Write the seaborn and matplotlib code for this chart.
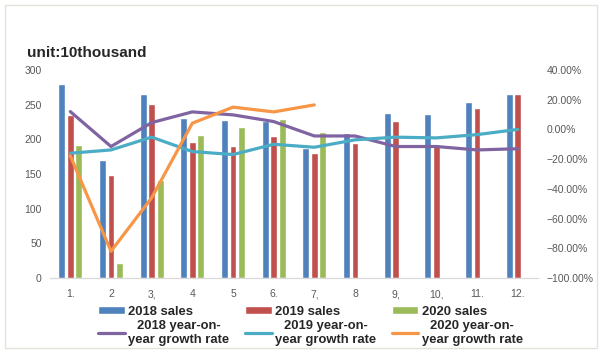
import matplotlib
matplotlib.use("Agg")
import matplotlib.pyplot as plt
import seaborn as sns
import pandas as pd
import numpy as np
from matplotlib.patches import Patch, Rectangle
from matplotlib.lines import Line2D
from matplotlib.ticker import PercentFormatter

# data (unit: 10 thousand)
months = ["1.", "2", "3,", "4", "5", "6.", "7,", "8", "9,", "10,", "11.", "12."]
sales_2018 = [280, 170, 265, 231, 228, 227, 187, 209, 238, 237, 254, 265]
sales_2019 = [235, 148, 251, 196, 191, 205, 180, 195, 227, 192, 245, 265]
sales_2020 = [192, 21, 142, 206, 218, 229, 210, np.nan, np.nan, np.nan, np.nan, np.nan]
growth_2018 = [12.0, -11.5, 4.6, 11.8, 9.8, 5.3, -4.4, -4.4, -11.5, -11.5, -13.8, -13.0]
growth_2019 = [-16.0, -13.8, -5.2, -14.9, -16.9, -10.0, -12.0, -7.0, -5.2, -5.7, -3.5, 0.0]
growth_2020 = [-17.8, -82.0, -46.0, 4.2, 15.0, 11.8, 16.5, np.nan, np.nan, np.nan, np.nan, np.nan]

bar_labels = ["2018 sales", "2019 sales", "2020 sales"]
line_labels = ["2018 year-on-\nyear growth rate", "2019 year-on-\nyear growth rate",
               "2020 year-on-\nyear growth rate"]
bar_colors = ["#4F81BD", "#C0504D", "#9BBB59"]
line_colors = ["#8064A2", "#4BACC6", "#F79646"]

sales = pd.DataFrame({
    "month": months * 3,
    "series": [bar_labels[0]] * 12 + [bar_labels[1]] * 12 + [bar_labels[2]] * 12,
    "value": sales_2018 + sales_2019 + sales_2020,
})
growth = pd.DataFrame({
    "pos": list(range(12)) * 3,
    "series": [line_labels[0]] * 12 + [line_labels[1]] * 12 + [line_labels[2]] * 12,
    "rate": growth_2018 + growth_2019 + growth_2020,
})

sns.set_style("white")
plt.rcParams["font.family"] = ["Liberation Sans", "DejaVu Sans"]

fig = plt.figure(figsize=(6.02, 3.60), dpi=100)
ax = fig.add_axes([50 / 602, 1 - 278 / 360, 488 / 602, 208 / 360])

sns.barplot(data=sales, x="month", y="value", hue="series", order=months,
            hue_order=bar_labels, palette=bar_colors, width=0.62, gap=0.18,
            saturation=1, legend=False, ax=ax)
ax.set_ylim(0, 300)
ax.set_yticks(range(0, 301, 50))
ax.set_xlim(-0.5, 11.5)
ax.set_xlabel("")
ax.set_ylabel("")

ax2 = ax.twinx()
sns.lineplot(data=growth, x="pos", y="rate", hue="series", hue_order=line_labels,
             palette=line_colors, linewidth=2.3, legend=False, ax=ax2)
ax2.set_ylim(-100, 40)
ax2.set_yticks(range(-100, 41, 20))
ax2.yaxis.set_major_formatter(PercentFormatter(decimals=2))
ax2.set_xlim(-0.5, 11.5)
ax2.set_xlabel("")
ax2.set_ylabel("")

for a in (ax, ax2):
    for s in ["top", "left", "right"]:
        a.spines[s].set_visible(False)
    a.spines["bottom"].set_color("#D9D9D9")
    a.tick_params(length=0, labelsize=7.5, labelcolor="#595959")
ax.tick_params(axis="y", pad=6)
ax.tick_params(axis="x", pad=8)
ax2.tick_params(axis="y", pad=6)

fig.text(27 / 602, 1 - 57 / 360, "unit:10thousand", fontsize=11, fontweight="bold",
         va="baseline")

handles = []
for i in range(3):
    handles.append(Patch(facecolor=bar_colors[i], label=bar_labels[i]))
    handles.append(Line2D([], [], color=line_colors[i], lw=2.3, label=line_labels[i]))
leg = fig.legend(handles=handles, ncol=3, loc="upper left",
                 bbox_to_anchor=(98 / 602, 1 - 306 / 360), frameon=False,
                 prop={"size": 9.4, "weight": "bold"}, borderpad=0, borderaxespad=0,
                 handlelength=2.05, handleheight=0.55, handletextpad=0.25,
                 columnspacing=1.2, labelspacing=0.12)
for t in leg.get_texts():
    t.set_multialignment("center")
    t.set_linespacing(1.3)

fig.patches.append(Rectangle((5 / 602, 12 / 360), 592 / 602, 343 / 360,
                             transform=fig.transFigure, fill=False,
                             edgecolor="#E4E2D8", lw=1))

fig.savefig("out.png", dpi=100)
